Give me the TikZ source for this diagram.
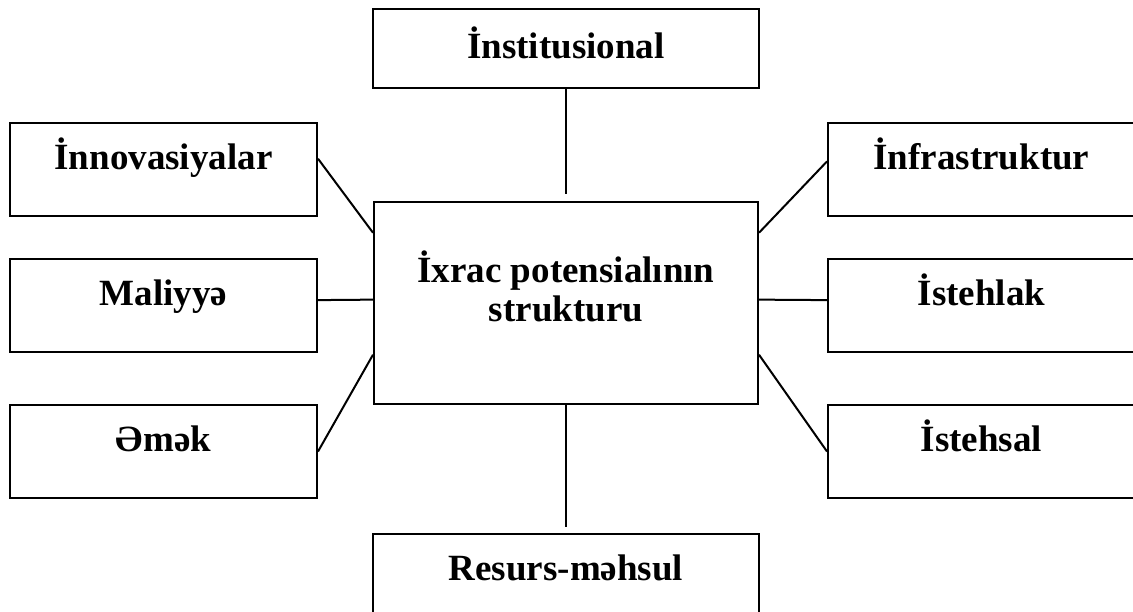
\documentclass[tikz,border=0pt]{standalone}
\usepackage{fontspec}
\setmainfont{Liberation Serif}

\tikzset{
	factor/.style={draw, line width=1pt, inner sep=0pt, minimum width=153.5pt, minimum height=46.5pt,
		font=\fontsize{18.5}{20}\selectfont\bfseries, text height=6pt, text depth=6pt},
	link/.style={line width=1pt}
}

\begin{document}
\begin{tikzpicture}[x=0.5pt,y=-0.5pt]
		\useasboundingbox (0,0) rectangle (1133,611);
		\clip (0,0) rectangle (1133,611);

		%the central box
		\node[draw, line width=1pt, minimum width=192pt, minimum height=101pt, inner sep=0pt] (core) at (566,303) {};
		\node[font=\fontsize{18.5}{19.5}\selectfont\bfseries, align=center] (corelbl) at (566,286.5) {İxrac potensialının\\strukturu};

		%top and bottom
		\node[factor, minimum width=193pt, minimum height=39.5pt, text height=11pt, text depth=1.5pt] (inst) at (566,48.5) {İnstitusional};
		\node[factor, minimum width=193pt] (res) at (566,580.5) {Resurs-məhsul};

		%left column
		\node[factor] (inn) at (163.5,169.5) {İnnovasiyalar};
		\node[factor] (mal) at (163.5,305.5) {Maliyyə};
		\node[factor] (emek) at (163.5,451.5) {Əmək};

		%right column
		\node[factor] (infra) at (981.5,169.5) {İnfrastruktur};
		\node[factor] (istl) at (981.5,305.5) {İstehlak};
		\node[factor] (ists) at (981.5,451.5) {İstehsal};

		\draw[link, shorten >=3.5pt] (inst) -- (core);
		\draw[link, shorten >=3pt] (core) -- (res);

		\draw[link] (inn.4) -- (core.160);
		\draw[link] (mal.2) -- (core.179);
		\draw[link] (emek.east) -- (core.195);

		\draw[link] (infra.177) -- (core.20);
		\draw[link] (istl.178) -- (core.1);
		\draw[link] (ists.west) -- (core.-15);

	\end{tikzpicture}
\end{document}
